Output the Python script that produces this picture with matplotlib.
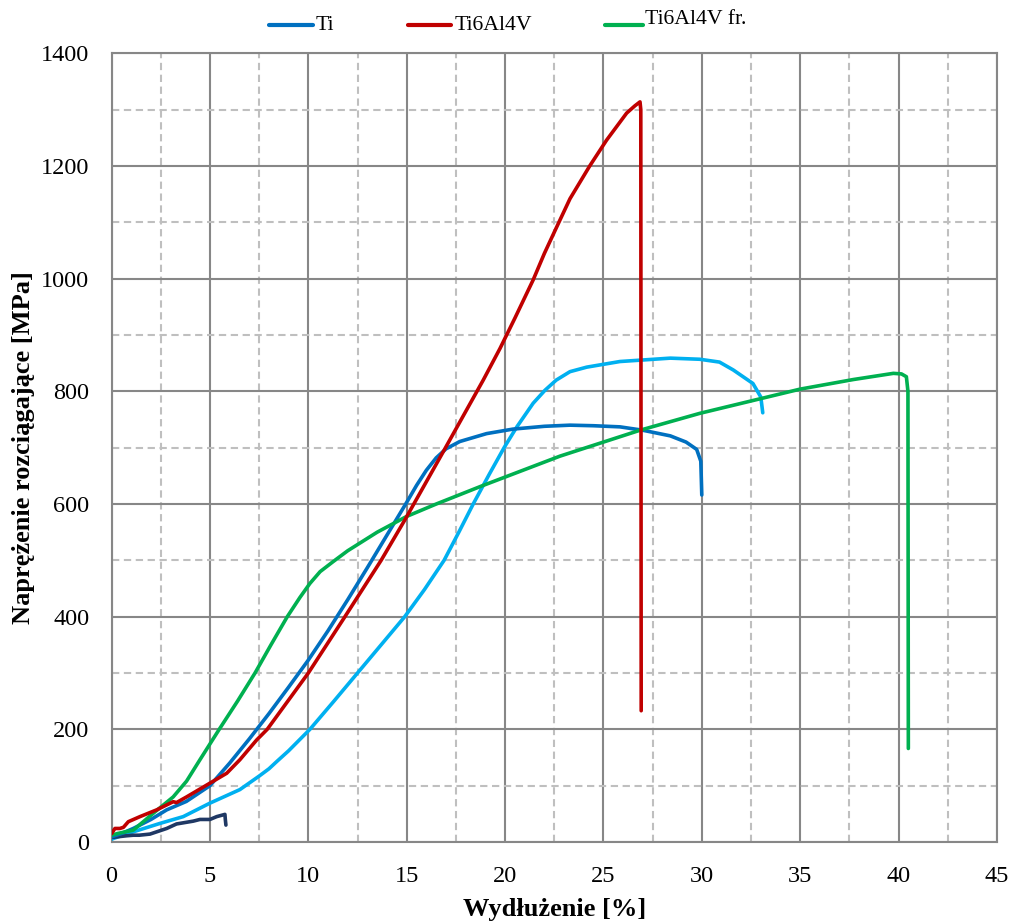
import matplotlib
matplotlib.use("Agg")
import matplotlib.pyplot as plt
from matplotlib.lines import Line2D
import numpy as np

plt.rcParams['font.family'] = ['Liberation Serif', 'DejaVu Serif']

# ---- data (strain %, stress MPa) ----
ti_x = [0, 0.5, 1.1, 2.0, 2.8, 3.8, 5.0, 6.0, 7.0, 8.0, 9.0, 10.0, 11.0, 12.0, 13.0, 14.0,
        15.0, 15.5, 16.0, 16.5, 17.0, 17.7, 19.06, 20.4, 22.0, 23.3, 24.5, 25.84, 27.0,
        28.4, 29.2, 29.74, 29.95, 30.0]
ti_y = [9, 15, 24, 40, 57, 72, 100, 140, 183, 228, 275, 323, 375, 430, 487, 545,
        603, 633, 660, 682, 698, 711, 725, 733, 738, 740, 739, 737, 731,
        721, 710, 697, 676, 616]

ti64_x = [0, 0.17, 0.42, 0.6, 0.85, 1.44, 2.29, 3.13, 3.3, 3.81, 4.83, 5.85, 6.52, 7.37,
          7.91, 10.0, 11.86, 13.7, 14.91, 16.86, 18.89, 19.74, 20.5, 21.43, 22.0, 22.6,
          23.3, 24.3, 25.16, 26.18, 26.6, 26.86, 26.9, 26.92]
ti64_y = [15, 24, 24, 26, 36, 45, 57, 71.5, 70, 80, 101, 122, 146, 181,
          200, 300, 400, 500, 572, 693, 820, 876, 930, 998, 1045, 1090,
          1142, 1200, 1246, 1294, 1307, 1314, 1300, 233]

ti64fr_x = [0, 0.3, 1.1, 2.12, 3.13, 3.81, 4.49, 5.47, 6.4, 7.29, 8.1, 8.93, 9.57, 10.08,
            10.6, 11.27, 12.0, 12.5, 13.5, 15.0, 16.5, 18.81, 22.79, 26.86, 29.9, 35.0,
            37.7, 39.74, 40.15, 40.4, 40.48, 40.5]
ti64fr_y = [12, 15, 21, 51, 80, 108, 146, 200, 250, 300, 350, 400, 434, 459,
            480, 498, 517, 528, 550, 578, 600, 632, 685, 731, 761, 804,
            821, 832, 831, 826, 800, 166]

lb_x = [0, 0.4, 1.1, 2.46, 3.64, 5.0, 6.52, 7.5, 8.0, 8.4, 9.0, 10.08, 11.3, 12.5, 13.7,
        14.9, 15.9, 16.9, 17.65, 18.38, 19.2, 19.95, 20.6, 21.43, 22.03, 22.6, 23.3, 24.15,
        25.84, 28.4, 29.9, 30.9, 31.6, 32.6, 33.0, 33.1]
lb_y = [5, 10, 18, 33, 45, 69, 93, 117, 130, 143, 162, 200, 250, 300, 350,
        400, 448, 500, 550, 600, 653, 700, 737, 779, 802, 820, 835, 843,
        853, 859, 857, 852, 838, 814, 790, 762]

nv_x = [0, 0.76, 1.1, 1.4, 1.95, 2.8, 3.3, 4.15, 4.49, 5.0, 5.34, 5.76, 5.78, 5.81]
nv_y = [8, 11, 12, 12, 14, 24, 32, 37, 40, 40, 45, 49, 40, 30]

legend_labels = ['Ti', 'Ti6Al4V', 'Ti6Al4V fr.']
xticks = list(range(0, 46, 5))
yticks = list(range(0, 1401, 200))

c_ti, c_ti64, c_fr, c_lb, c_nv = '#0070C0', '#C00000', '#00B050', '#00B0F0', '#1F3864'

fig = plt.figure(figsize=(10.24, 9.21), dpi=100)
ax = fig.add_axes([0.109, 0.0858, 0.8645, 0.8562])

lw = 2.6
kw = dict(lw=lw, solid_capstyle='round', solid_joinstyle='round')
ax.plot(lb_x, lb_y, color=c_lb, zorder=3, **kw)
ax.plot(nv_x, nv_y, color=c_nv, zorder=3, **kw)
ax.plot(ti_x, ti_y, color=c_ti, zorder=4, **kw)
ax.plot(ti64fr_x, ti64fr_y, color=c_fr, zorder=4, **kw)
ax.plot(ti64_x, ti64_y, color=c_ti64, zorder=5, **kw)

ax.set_xlim(0, 45)
ax.set_ylim(0, 1400)
ax.set_xticks(xticks)
ax.set_yticks(yticks)
ax.set_xticks(np.arange(2.5, 45, 5), minor=True)
ax.set_yticks(np.arange(100, 1400, 200), minor=True)
ax.grid(which='major', color='#878787', lw=1.5, ls='-', zorder=1)
ax.grid(which='minor', color='#BFBFBF', lw=1.5, ls=(0, (3.5, 2.2)), zorder=1)
ax.set_axisbelow(True)
ax.tick_params(which='both', length=0)
ax.tick_params(axis='x', labelsize=17.5, pad=17)
ax.tick_params(axis='y', labelsize=17.5, pad=16)
for s in ax.spines.values():
    s.set_color('#878787')
    s.set_linewidth(1.5)

ax.set_xlabel('Wydłużenie [%]', fontsize=19, fontweight='bold', labelpad=8)
ax.set_ylabel('Naprężenie rozciągające [MPa]', fontsize=19, fontweight='bold', labelpad=4)

# legend entries (manual, above plot)
W, H = 1024.0, 921.0
entries = [(269, 313, 25, 316, 25, c_ti), (408, 451, 25, 455, 25, c_ti64),
           (605, 643, 25, 645, 20, c_fr)]
for (x0, x1, ly, tx, ty, col), lab in zip(entries, legend_labels):
    fig.add_artist(Line2D([x0 / W, x1 / W], [1 - ly / H, 1 - ly / H], color=col, lw=3,
                          solid_capstyle='round', transform=fig.transFigure))
    fig.text(tx / W, 1 - ty / H, lab, fontsize=15.7, ha='left', va='center')

fig.savefig('out.png', dpi=100)
